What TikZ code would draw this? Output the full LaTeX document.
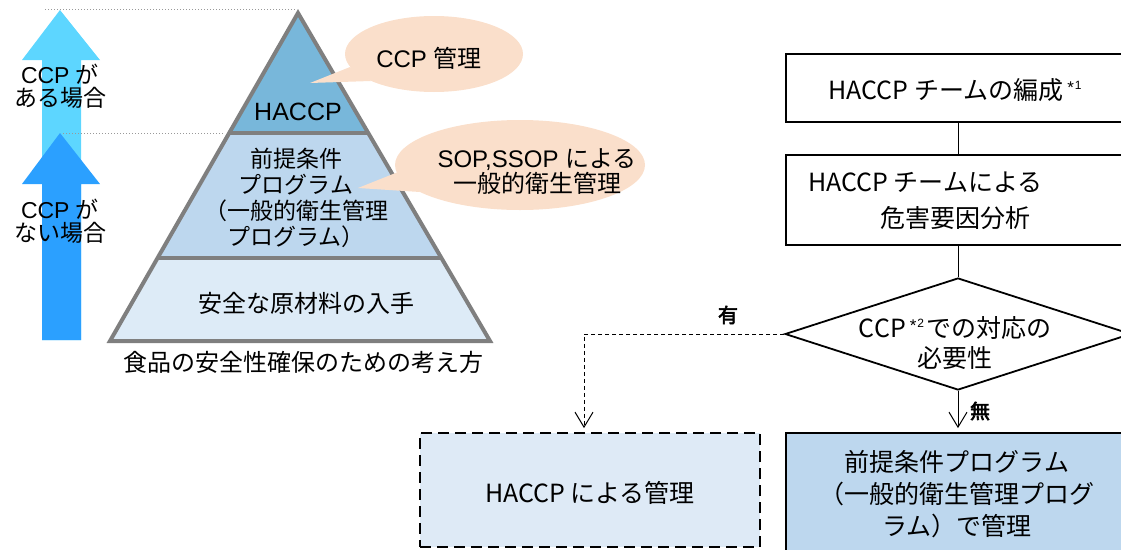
\documentclass[tikz,border=0pt]{standalone}
\usepackage{fontspec}
\setmainfont{Noto Sans CJK JP}
\newfontfamily\latn{Liberation Sans}
\newfontfamily\jpb[FakeBold=3]{Noto Sans CJK JP}
\usetikzlibrary{arrows.meta,shapes.geometric}
\definecolor{lightarrow}{HTML}{5DD6FF}
\definecolor{darkarrow}{HTML}{2BA0FF}
\definecolor{tierA}{HTML}{78B7DA}
\definecolor{tierB}{HTML}{BDD7EE}
\definecolor{tierC}{HTML}{DDEBF7}
\definecolor{pyrgray}{HTML}{7F7F7F}
\definecolor{bubblecol}{HTML}{FADFCB}
\definecolor{dashfill}{HTML}{DEEAF6}
\definecolor{blueboxcol}{HTML}{BDD7EE}
\newcommand{\supnote}[1]{\hspace{4pt}\raisebox{6pt}{\fontsize{17}{17}\selectfont\latn *}\hspace{1pt}\raisebox{10pt}{\fontsize{12}{12}\selectfont\latn #1}}
\begin{document}
\begin{tikzpicture}[x=1pt,y=-1pt,
  ltxt/.style={inner sep=0pt, align=center, font=\fontsize{23}{23}\selectfont},
  ptxt/.style={inner sep=0pt, align=center, font=\fontsize{23}{26}\selectfont},
  btxt/.style={inner sep=0pt, align=center, font=\fontsize{24}{25}\selectfont},
  ftxt/.style={inner sep=0pt, align=center, font=\fontsize{25}{32}\selectfont},
  flowbox/.style={draw=black, line width=1.8pt, fill=white, inner sep=0pt},
  pyr/.style={draw=pyrgray, line width=4pt, line join=miter},
  guide/.style={draw=gray!80, line width=1pt, dash pattern=on 1pt off 2pt},
  conn/.style={draw=black, line width=1pt},
  openv/.style={-{Straight Barb[length=15pt,width=18pt]}},
  yesno/.style={inner sep=0pt, font=\jpb\fontsize{20}{20}\selectfont}
]
\useasboundingbox (0,0) rectangle (1121,549);
\clip (0,0) rectangle (1121,549);

% left arrows
\fill[lightarrow] (60,10) -- (100,60) -- (81,60) -- (81,340) -- (42,340) -- (42,60) -- (22,60) -- cycle;
\fill[darkarrow] (60,133) -- (100,184) -- (81,184) -- (81,340) -- (42,340) -- (42,184) -- (22,184) -- cycle;
\node[ltxt] (lab1) at (60,86) {{\latn CCP }が\\ある場合};
\node[ltxt] (lab2) at (60,221) {{\latn CCP }が\\ない場合};

% guide lines
\draw[guide] (45,9) -- (295,9);
\draw[guide] (63,133) -- (223,133);

% pyramid
\fill[tierA] (298,13) -- (368,133) -- (229,133) -- cycle;
\fill[tierB] (229,133) -- (368,133) -- (441,258) -- (158,258) -- cycle;
\fill[tierC] (158,258) -- (441,258) -- (490,341) -- (110,341) -- cycle;
\draw[pyr] (298,13) -- (490,341) -- (110,341) -- cycle;
\draw[pyr] (229,133) -- (368,133);
\draw[pyr] (158,258) -- (441,258);
\node[inner sep=0pt, font=\latn\fontsize{25}{25}\selectfont] (haccp) at (298,112) {HACCP};
\node[ptxt] (prereq) at (296,198) {前提条件\\プログラム\\（一般的衛生管理\\プログラム）};
\node[inner sep=0pt, font=\fontsize{24}{24}\selectfont] (raw) at (306,303) {安全な原材料の入手};
\node[inner sep=0pt, font=\fontsize{24}{24}\selectfont] (caption) at (303,362) {食品の安全性確保のための考え方};

% speech bubbles
\fill[bubblecol] (434,54) ellipse [x radius=89, y radius=38];
\fill[bubblecol] (350,67) -- (310,83) -- (371,81) -- cycle;
\node[btxt] (bub1) at (429,58) {{\latn CCP }管理};
\fill[bubblecol] (520,165) ellipse [x radius=125, y radius=45];
\fill[bubblecol] (398,172) -- (358,188) -- (420,192) -- cycle;
\node[btxt] (bub2) at (537,172) {{\latn SOP,SSOP }による\\一般的衛生管理};

% flowchart
\node[flowbox, minimum width=354pt, minimum height=68pt] (b1) at (963,88) {};
\node[ftxt] (t1) at (955,90) {HACCP チームの編成\supnote{1}};
\node[flowbox, minimum width=354pt, minimum height=90pt] (b2) at (963,200) {};
\node[inner sep=0pt, font=\fontsize{25}{25}\selectfont, anchor=west] (t2a) at (808,182) {HACCP チームによる};
\node[inner sep=0pt, font=\fontsize{25}{25}\selectfont] (t2b) at (955,218) {危害要因分析};
\node[draw=black, line width=1.8pt, fill=white, diamond, minimum width=346pt, minimum height=112pt, inner sep=0pt] (dia) at (958,334) {};
\node[inner sep=0pt, align=center, font=\fontsize{25}{30}\selectfont] (tdia) at (955,343) {CCP\supnote{2}\hspace{2pt}での対応の\\必要性};
\node[draw=black, line width=1.8pt, dash pattern=on 11pt off 6pt, fill=dashfill, minimum width=340pt, minimum height=114pt, inner sep=0pt] (b3) at (590,490) {};
\node[ftxt] (t3) at (590,493) {HACCP による管理};
\node[draw=black, line width=1.8pt, fill=blueboxcol, minimum width=354pt, minimum height=140pt, inner sep=0pt] (b4) at (963,503) {};
\node[ftxt] (t4) at (957,494) {前提条件プログラム\\（一般的衛生管理プログ\\ラム）で管理};

\draw[conn] (b1.south -| dia.north) -- (b2.north -| dia.north);
\draw[conn] (b2.south -| dia.north) -- (dia.north);
\draw[conn, openv, shorten >=4pt] (dia.south) -- (b4.north -| dia.south);
\coordinate (bend) at ([xshift=-6pt]b3.north);
\draw[conn, dash pattern=on 4pt off 3pt, openv, shorten >=4pt] (dia.west) -| (bend);
\node[yesno] (yes) at (728,315) {有};
\node[yesno] (no) at (980,411) {無};
\end{tikzpicture}
\end{document}
